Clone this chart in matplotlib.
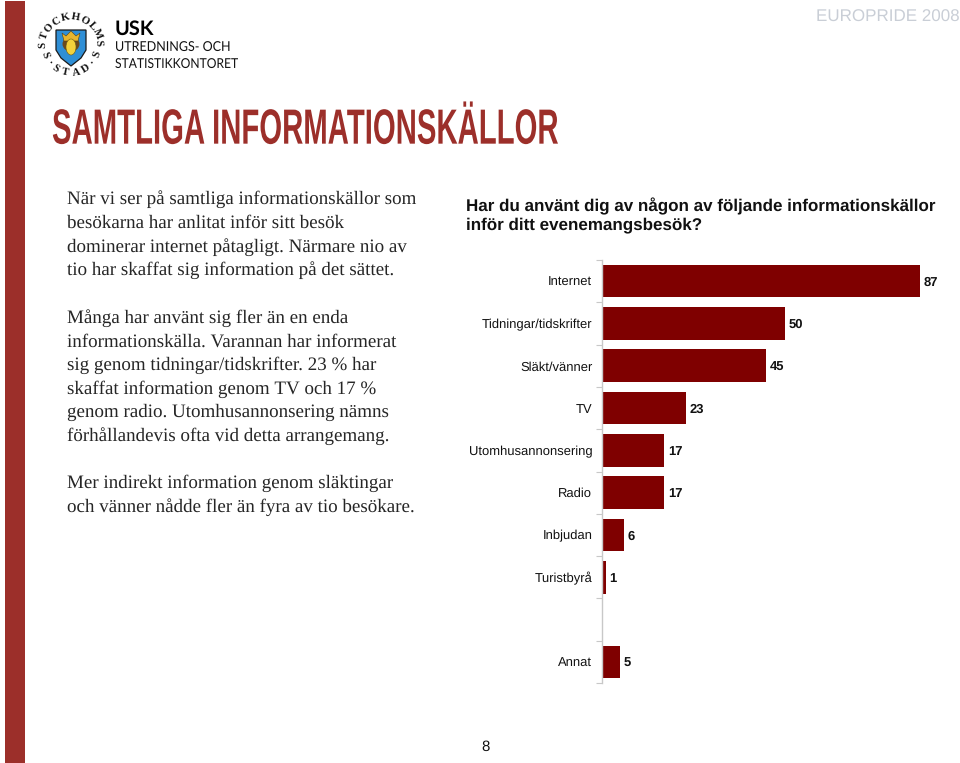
import math
import matplotlib
matplotlib.use('Agg')
import matplotlib.pyplot as plt
from matplotlib.patches import Polygon, Ellipse, Rectangle
from matplotlib.patheffects import AbstractPathEffect
from matplotlib.transforms import Affine2D

plt.rcParams['text.hinting'] = 'no_hinting'
plt.rcParams['text.hinting_factor'] = 1

categories = ['Internet', 'Tidningar/tidskrifter', 'Släkt/vänner', 'TV', 'Utomhusannonsering',
              'Radio', 'Inbjudan', 'Turistbyrå', '', 'Annat']
values = [87, 50, 45, 23, 17, 17, 6, 1, None, 5]

body_lines = [
    (199, 'När vi ser på samtliga informationskällor som'),
    (223, 'besökarna har anlitat inför sitt besök'),
    (247, 'dominerar internet påtagligt. Närmare nio av'),
    (270, 'tio har skaffat sig information på det sättet.'),
    (318, 'Många har använt sig fler än en enda'),
    (342, 'informationskälla. Varannan har informerat'),
    (365, 'sig genom tidningar/tidskrifter. 23 % har'),
    (389, 'skaffat information genom TV och 17 %'),
    (412, 'genom radio. Utomhusannonsering nämns'),
    (436, 'förhållandevis ofta vid detta arrangemang.'),
    (483, 'Mer indirekt information genom släktingar'),
    (507, 'och vänner nådde fler än fyra av tio besökare.'),
]

RED = '#9c2f2a'
BAR = '#7f0000'
W, H = 960, 763


class Squeeze(AbstractPathEffect):
    # no condensed font installed, so narrow the real text around its left edge
    def __init__(self, x0, sx):
        super().__init__()
        self.x0 = x0
        self.sx = sx

    def draw_path(self, renderer, gc, tpath, affine, rgbFace=None):
        squeeze = Affine2D().translate(-self.x0, 0).scale(self.sx, 1).translate(self.x0, 0)
        renderer.draw_path(gc, tpath, affine + squeeze, rgbFace)


fig = plt.figure(figsize=(W / 100, H / 100), dpi=100)

# page layer in pixel coordinates
bg = fig.add_axes([0, 0, 1, 1])
bg.set_xlim(0, W)
bg.set_ylim(H, 0)
bg.axis('off')

bg.add_patch(Rectangle((5, 1), 20, H, color=RED, lw=0))

# logo
cx, cy, r = 71, 45, 28
bg.add_patch(Polygon([(56, 30), (86, 30), (86, 50), (81, 58), (71, 66), (61, 58), (56, 50)],
                     closed=True, fc='#2f8fd6', ec='#1a1a1a', lw=0.9))
bg.add_patch(Ellipse((71, 44), 17, 15, fc='#6b4a1e', lw=0))
bg.add_patch(Polygon([(62, 33), (66, 36), (71, 31), (76, 36), (80, 33), (78, 41), (64, 41)],
                     closed=True, fc='#e8b52e', ec='#5a4010', lw=0.4))
bg.add_patch(Ellipse((71, 47), 10, 16, fc='#f4d23c', ec='#6b5a10', lw=0.4))

ring_letters = list('STOCKHOLMS') + ['S', '·', 'S', 'T', 'A', 'D', '·', 'S']
ring_angles = [180, 161, 142, 122, 102, 80, 60, 42, 23, 5, 200, 218, 236, 258, 280, 302, 321, 340]
for ch, ang in zip(ring_letters, ring_angles):
    a = math.radians(ang)
    rot = ang - 90 if ang <= 180 else ang + 90
    bg.text(cx + r * math.cos(a), cy - r * math.sin(a), ch, family='Liberation Serif', fontsize=7.8,
            weight='bold', ha='center', va='center', rotation=rot, color='#111111')

bg.text(115, 29, 'USK', family='Lato', fontsize=14.6, weight='bold', va='center', color='black')
t1 = bg.text(115, 47, 'UTREDNINGS- OCH', family='Lato', fontsize=9.8, va='center', color='#111111')
t2 = bg.text(115, 64, 'STATISTIKKONTORET', family='Lato', fontsize=9.8, va='center', color='#111111')
t1.set_path_effects([Squeeze(115, 0.92)])
t2.set_path_effects([Squeeze(115, 0.89)])
bg.text(960, 17, 'EUROPRIDE 2008', family='Liberation Sans', fontsize=12, ha='right', va='center',
        color='#c9ced6')

title = bg.text(52, 131, 'SAMTLIGA INFORMATIONSKÄLLOR', family='Liberation Sans',
                fontsize=35.6, weight='bold', va='center', color=RED)
title.set_path_effects([Squeeze(52, 0.593)])

for y, line in body_lines:
    bg.text(67, y, line, family='Liberation Serif', fontsize=13.7, va='center', color='#262626')

bg.text(466, 206, 'Har du använt dig av någon av följande informationskällor', family='Liberation Sans',
        fontsize=12, weight='bold', va='center', color='#111111')
bg.text(466, 225, 'inför ditt evenemangsbesök?', family='Liberation Sans',
        fontsize=12, weight='bold', va='center', color='#111111')
bg.text(486, 747, '8', family='Liberation Sans', fontsize=10.5, ha='center', va='center', color='#111111')

# chart axes, x0=602 top=260 bottom=683, 3.655 px per percent
left, top, bottom = 602, 260, 683
xmax = (W - left) / 3.655
ax = fig.add_axes([left / W, 1 - bottom / H, (W - left) / W, (bottom - top) / H])
ax.patch.set_alpha(0)
pos = list(range(len(categories)))
for p, v in zip(pos, values):
    if v is None:
        continue
    ax.barh(p, v, height=0.77, color=BAR, edgecolor='none')
    ax.text(v + 1.0, p + 0.03, str(v), family='Liberation Sans', fontsize=9.4, weight='bold', va='center',
            ha='left', color='#111111')

ax.set_xlim(0, xmax)
ax.set_ylim(len(categories) - 0.5, -0.5)
ax.set_yticks([p - 0.5 for p in pos] + [len(categories) - 0.5])
ax.set_yticklabels([])
ax.set_yticks(pos, minor=True)
ax.set_yticklabels(categories, minor=True, family='Liberation Sans', fontsize=9.0, color='#111111')
ax.tick_params(axis='y', which='major', length=4, width=0.8, color='#c8c8c8')
ax.tick_params(axis='y', which='minor', length=0, pad=7)
ax.set_xticks([])
for s in ['top', 'right', 'bottom']:
    ax.spines[s].set_visible(False)
ax.spines['left'].set_color('#c8c8c8')
ax.spines['left'].set_linewidth(1.0)

fig.savefig('out.png', dpi=100)
